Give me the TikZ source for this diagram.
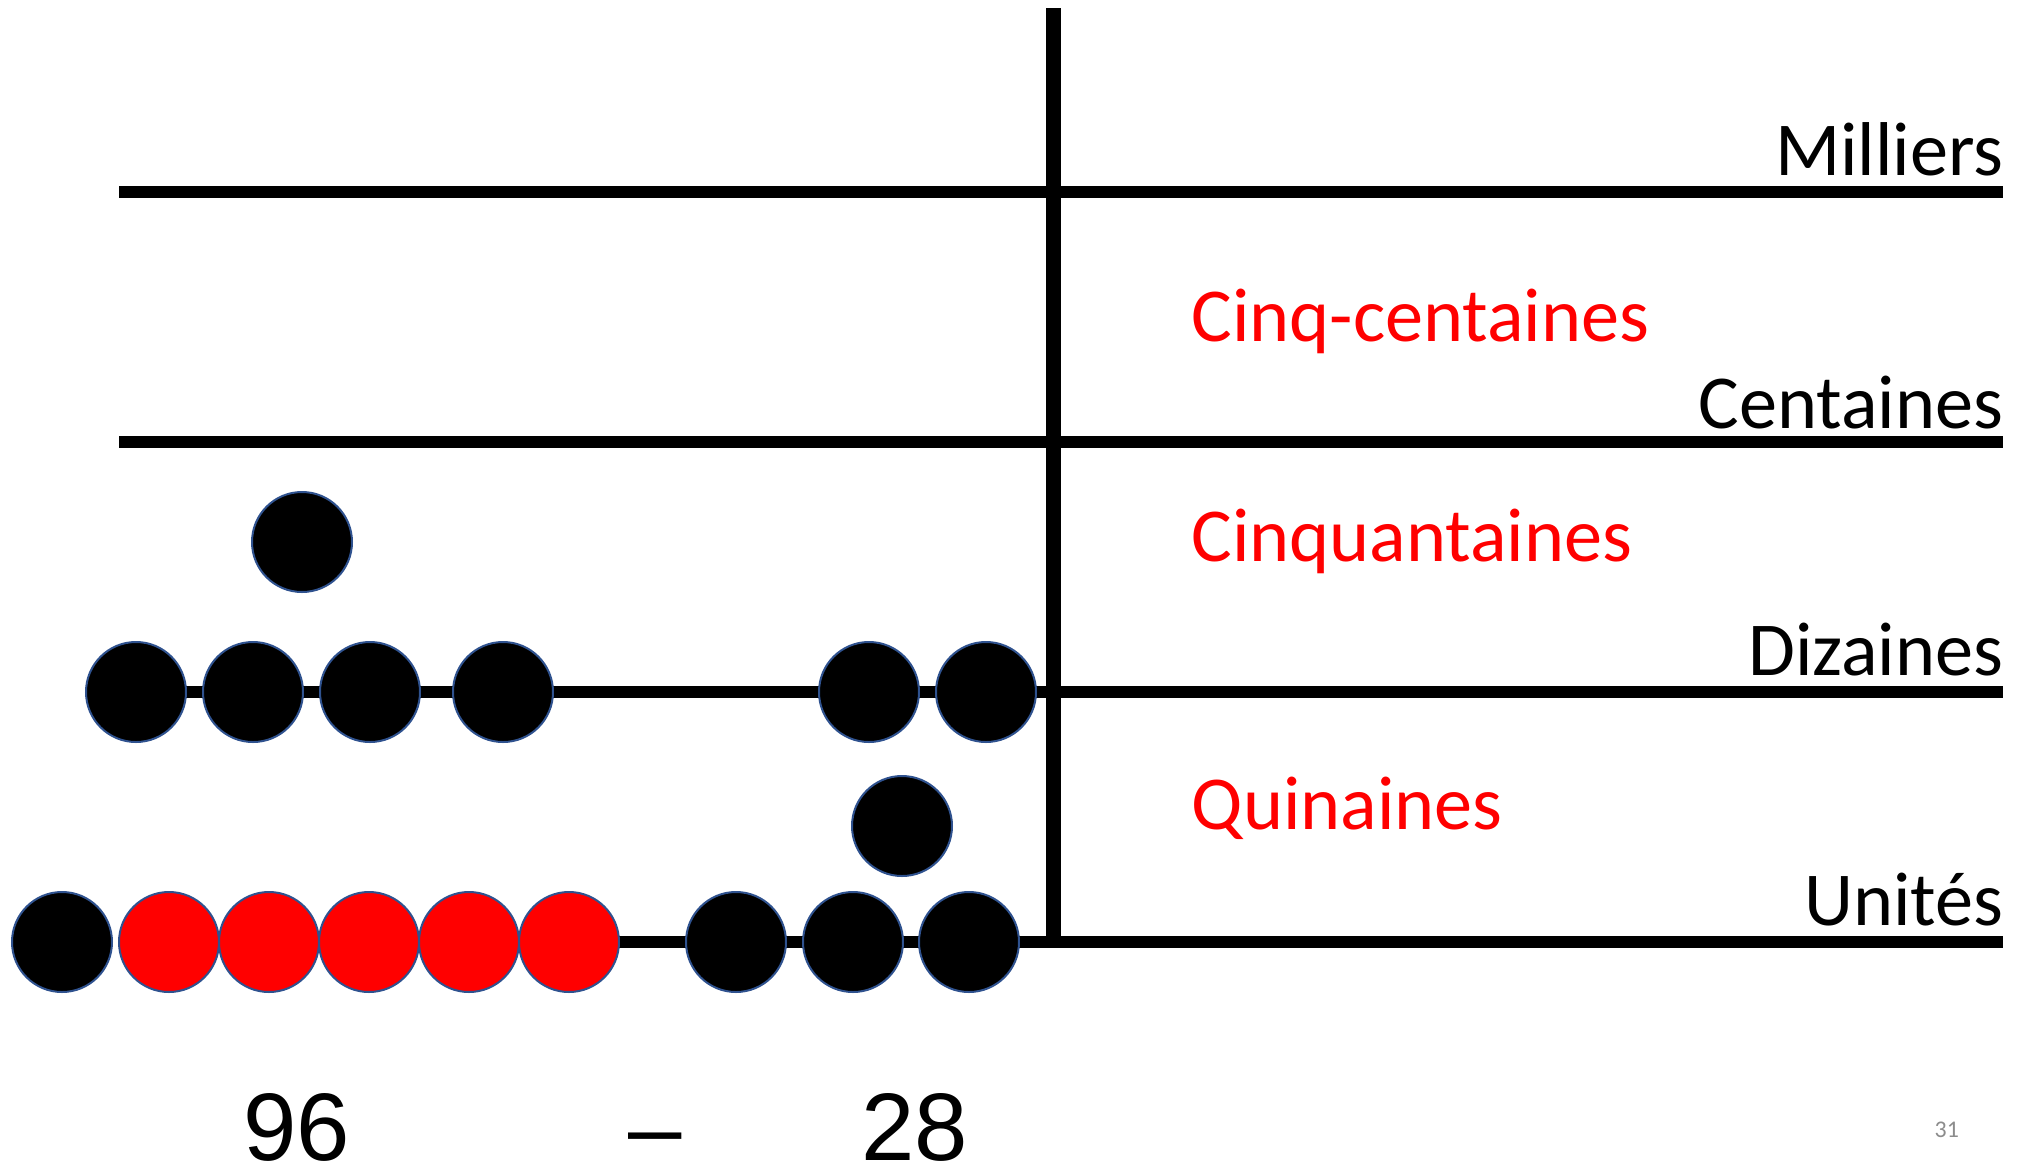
\documentclass[tikz,border=0pt]{standalone}
\usepackage{fontspec}
\setmainfont{Carlito}
\newfontfamily\numfont{Liberation Sans}
\usetikzlibrary{backgrounds}
\definecolor{beadrim}{HTML}{2F528F}
\definecolor{pagegray}{HTML}{8C8C8C}
\tikzset{
  bead/.style={circle, draw=beadrim, line width=0.2mm, minimum size=10mm, inner sep=0pt, fill=black},
  redbead/.style={bead, fill=red},
  rod/.style={line width=1.2mm, line cap=butt},
  mast/.style={line width=1.5mm, line cap=butt},
  rank/.style={font=\fontsize{21.7pt}{24pt}\selectfont, anchor=base east, inner sep=0pt},
  halfrank/.style={font=\fontsize{21.7pt}{24pt}\selectfont, text=red, anchor=base west, inner sep=0pt},
  num/.style={font=\numfont\fontsize{27.3pt}{30pt}\selectfont, anchor=base, inner sep=0pt},
}
\begin{document}
\begin{tikzpicture}[x=0.1mm, y=-0.1mm]
  \useasboundingbox (0,0) rectangle (2029,1167);

  % ends of the rods and of the mast
  \coordinate (mL) at (119,192);  \coordinate (mR) at (2003,192);
  \coordinate (cL) at (119,442);  \coordinate (cR) at (2003,442);
  \coordinate (dR) at (2003,692);
  \coordinate (uR) at (2003,942);
  \coordinate (vT) at (1053,8);   \coordinate (vB) at (1053,942);

  % rank labels
  \node[rank] (lm) at (2004,175) {Milliers};
  \node[rank] (lc) at (2004,428) {Centaines};
  \node[rank] (ld) at (2004,675) {Dizaines};
  \node[rank] (lu) at (2004,925) {Unités};
  \node[halfrank] (l5c) at (1191,341) {Cinq-centaines};
  \node[halfrank] (l5d) at (1191,561) {Cinquantaines};
  \node[halfrank] (l5u) at (1191,829) {Quinaines};

  % tens: 96 (left) and 28 (right)
  \node[bead] (c1) at (302,542) {};
  \node[bead] (d1) at (136,692) {};
  \node[bead] (d2) at (253,692) {};
  \node[bead] (d3) at (370,692) {};
  \node[bead] (d4) at (503,692) {};
  \node[bead] (t1) at (869,692) {};
  \node[bead] (t2) at (986,692) {};

  % units
  \node[bead] (q1) at (902,826) {};
  \node[bead] (u0) at (62,942) {};
  \node[redbead] (u1) at (169,942) {};
  \node[redbead] (u2) at (269,942) {};
  \node[redbead] (u3) at (369,942) {};
  \node[redbead] (u4) at (469,942) {};
  \node[redbead] (u5) at (569,942) {};
  \node[bead] (s1) at (736,942) {};
  \node[bead] (s2) at (853,942) {};
  \node[bead] (s3) at (969,942) {};

  % rods and mast behind the beads
  \begin{scope}[on background layer]
    \draw[rod] (mL) -- (mR);
    \draw[rod] (cL) -- (cR);
    \draw[rod] (d1.center) -- (dR);
    \draw[rod] (u1.center) -- (uR);
    \draw[mast] (vT) -- (vB);
  \end{scope}

  % the subtraction written below
  \node[num] (n96) at (297,1160) {96};
  \node[num] (nminus) at (655,1160) {–};
  \node[num] (n28) at (915,1160) {28};

  \node[font=\fontsize{6.8pt}{8pt}\selectfont, text=pagegray, anchor=base west, inner sep=0pt] (pg) at (1934,1137) {31};
\end{tikzpicture}
\end{document}
